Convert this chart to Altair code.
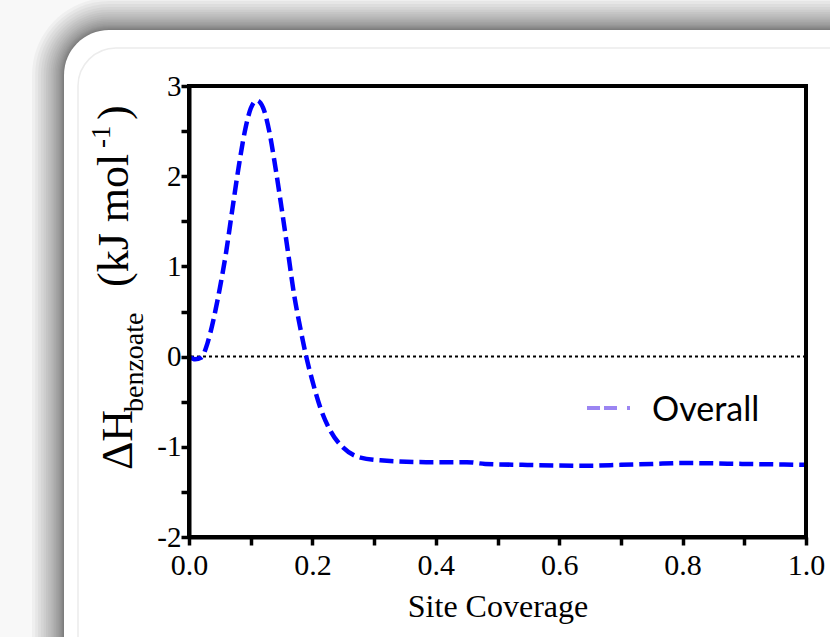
import altair as alt
import pandas as pd

# ---- data ----
coverage = [0.000, 0.010, 0.020, 0.030, 0.040, 0.050, 0.060, 0.070, 0.080, 0.090,
            0.100, 0.110, 0.120, 0.130, 0.140, 0.150, 0.160, 0.170, 0.180, 0.190,
            0.200, 0.213, 0.229, 0.250, 0.278, 0.310, 0.386, 0.450, 0.480, 0.540,
            0.650, 0.700, 0.750, 0.800, 0.900, 1.000]
dH_overall = [0.00, -0.03, -0.01, 0.15, 0.42, 0.76, 1.15, 1.62, 2.08, 2.48,
              2.75, 2.84, 2.76, 2.50, 2.10, 1.65, 1.18, 0.70, 0.33, 0.00,
              -0.27, -0.57, -0.82, -1.01, -1.12, -1.15, -1.17, -1.17, -1.19, -1.20,
              -1.21, -1.20, -1.19, -1.18, -1.19, -1.20]
zero_level = [0.0]
x_ticks = [0.0, 0.1, 0.2, 0.3, 0.4, 0.5, 0.6, 0.7, 0.8, 0.9, 1.0]
y_ticks = [-2, -1.5, -1, -0.5, 0, 0.5, 1, 1.5, 2, 2.5, 3]
series_name = ["Overall"]

W, H = 617, 451
SERIF = "Liberation Serif"

df = pd.DataFrame({"coverage": coverage, "dH": dH_overall})
zero_df = pd.DataFrame({"y": zero_level})
one = pd.DataFrame({"k": [0]})

x_scale = alt.Scale(domain=[0, 1], nice=False, zero=False)
y_scale = alt.Scale(domain=[-2, 3], nice=False, zero=False)

common_axis = dict(grid=False, domainColor="black", domainWidth=4, tickColor="black",
                   tickWidth=3.5, tickSize=8, labelFont=SERIF, labelColor="black",
                   labelFlush=False, labelOverlap=False, zindex=2)

# ---- decorative frame with soft shadow ----
shadow_offsets = [round(0.08 * i * i, 2) for i in range(1, 21)]
frame_layers = []
for off in shadow_offsets:
    frame_layers.append(
        alt.Chart(one).mark_rect(fill="black", opacity=0.035, cornerRadius=45 + off).encode(
            x=alt.value(-125 - off), x2=alt.value(760),
            y=alt.value(-56 - off), y2=alt.value(640))
    )
frame_layers.append(
    alt.Chart(one).mark_rect(fill="white", cornerRadius=45).encode(
        x=alt.value(-125), x2=alt.value(760), y=alt.value(-56), y2=alt.value(640))
)
frame_layers.append(
    alt.Chart(one).mark_rect(fill="white", stroke="#ececec", strokeWidth=1.5, cornerRadius=38).encode(
        x=alt.value(-111), x2=alt.value(760), y=alt.value(-38), y2=alt.value(640))
)

# ---- data marks ----
zero_line = alt.Chart(zero_df).mark_rule(color="black", strokeWidth=2, strokeDash=[3, 3]).encode(
    y=alt.Y("y:Q", scale=y_scale)
)

curve = alt.Chart(df).mark_line(color="#0000ff", strokeWidth=4.5, strokeDash=[14, 6],
                                interpolate="monotone").encode(
    x=alt.X("coverage:Q", scale=x_scale,
            axis=alt.Axis(values=x_ticks, title="Site Coverage",
                          labelExpr="round(datum.value*10) % 2 == 0 ? format(datum.value, '.1f') : ''",
                          labelFontSize=30, labelPadding=5, titleFont=SERIF,
                          titleFontSize=32, titleFontWeight="normal", titleColor="black",
                          titlePadding=11, **common_axis)),
    y=alt.Y("dH:Q", scale=y_scale,
            axis=alt.Axis(values=y_ticks, title=None,
                          labelExpr="datum.value % 1 == 0 ? '' + datum.value : ''",
                          labelFontSize=29, labelPadding=0, **common_axis)),
)

border = alt.Chart(one).mark_rect(fill="transparent", stroke="black", strokeWidth=4).encode(
    x=alt.datum(0, scale=x_scale), x2=alt.datum(1),
    y=alt.datum(-2, scale=y_scale), y2=alt.datum(3),
)

# ---- legend ----
legend_line = alt.Chart(one).mark_rule(color="#8a70f0", strokeWidth=4, opacity=0.85,
                                       strokeDash=[13, 4, 13, 10, 3]).encode(
    x=alt.value(398), x2=alt.value(443), y=alt.value(322))
legend_text = alt.Chart(pd.DataFrame({"t": series_name})).mark_text(
    font="Lato", fontSize=34, align="left", baseline="alphabetic", color="black").encode(
    text="t:N", x=alt.value(463), y=alt.value(335))

# ---- y axis title with subscript and superscript ----
title_parts = [
    ("ΔH", 44, -57, 384),
    ("benzoate", 28, -46, 326),
    ("(kJ mol", 44, -61, 201),
    ("-1", 27, -79, 62),
    (")", 44, -61, 34),
]
title_layers = []
for txt, fs, xv, yv in title_parts:
    title_layers.append(
        alt.Chart(pd.DataFrame({"t": [txt]})).mark_text(
            font=SERIF, fontSize=fs, angle=270, align="left", baseline="alphabetic",
            color="black").encode(text="t:N", x=alt.value(xv), y=alt.value(yv))
    )

chart = alt.layer(*frame_layers, zero_line, curve, border, legend_line, legend_text,
                  *title_layers).properties(
    width=W, height=H,
    background="#f8f8f8",
    padding={"left": 189, "top": 86, "right": 24, "bottom": 100},
    autosize=alt.AutoSizeParams(type="none"),
).configure_view(stroke=None).configure_axis(
    labelFont=SERIF, titleFont=SERIF
)

chart.save("out.html", embed_options={"renderer": "svg", "actions": False})
